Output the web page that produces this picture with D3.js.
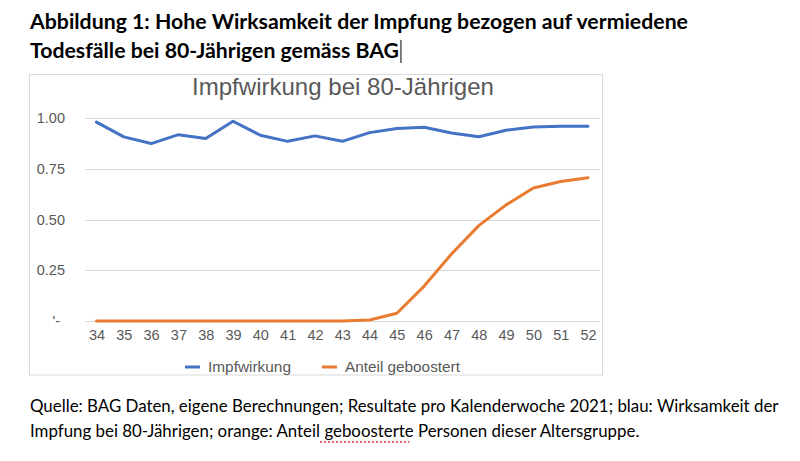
<!DOCTYPE html>
<html>
<head>
<meta charset="utf-8">
<script src="https://cdn.jsdelivr.net/npm/d3@7"></script>
<style>
  html, body { margin: 0; padding: 0; background: #fff; }
  svg { display: block; }
</style>
</head>
<body>
<svg id="chart" width="800" height="461"></svg>
<script>
// ---- Data ----
const weeks = [34,35,36,37,38,39,40,41,42,43,44,45,46,47,48,49,50,51,52];
const impfwirkung = [0.980,0.907,0.874,0.918,0.899,0.984,0.915,0.885,0.912,0.885,0.928,0.948,0.954,0.926,0.908,0.940,0.956,0.959,0.959];
const anteilGeboostert = [0,0,0,0,0,0,0,0,0,0,0.005,0.038,0.172,0.330,0.470,0.572,0.655,0.687,0.706];
const yTicks = [0, 0.25, 0.5, 0.75, 1.0];
const yTickLabels = ["'-", "0.25", "0.50", "0.75", "1.00"];
const seriesNames = ["Impfwirkung", "Anteil geboostert"];
const chartTitle = "Impfwirkung bei 80-Jährigen";
const headingLines = ["Abbildung 1: Hohe Wirksamkeit der Impfung bezogen auf vermiedene", "Todesfälle bei 80-Jährigen gemäss BAG"];
const captionLines = ["Quelle: BAG Daten, eigene Berechnungen; Resultate pro Kalenderwoche 2021; blau: Wirksamkeit der", "Impfung bei 80-Jährigen; orange: Anteil geboosterte Personen dieser Altersgruppe."];

const colors = ["#4472C4", "#E97C30"];
const svg = d3.select("#chart");

function fitText(sel, targetW) {
  const w = sel.node().getComputedTextLength();
  const fs = parseFloat(sel.attr("font-size"));
  sel.attr("font-size", (fs * targetW / w).toFixed(2));
}

// ---- Heading ----
const headFont = "Lato, 'Open Sans', sans-serif";
const h1 = svg.append("text").attr("x", 30).attr("y", 29).attr("font-family", headFont)
  .attr("font-weight", "bold").attr("font-size", 19).attr("fill", "#000").text(headingLines[0]);
fitText(h1, 658);
const h2 = svg.append("text").attr("x", 30).attr("y", 58).attr("font-family", headFont)
  .attr("font-weight", "bold").attr("font-size", h1.attr("font-size")).attr("fill", "#000").text(headingLines[1]);
const h2w = h2.node().getComputedTextLength();
svg.append("line").attr("x1", 30 + h2w + 2).attr("x2", 30 + h2w + 2).attr("y1", 40).attr("y2", 63)
  .attr("stroke", "#000").attr("stroke-width", 1);

// ---- Chart frame ----
svg.append("rect").attr("x", 29.5).attr("y", 74.5).attr("width", 573).attr("height", 300.5)
  .attr("fill", "#fff").attr("stroke", "#d9d9d9").attr("stroke-width", 1);

const chartFont = "'Liberation Sans', Arial, Helvetica, sans-serif";
const textGray = "#595959";

const t = svg.append("text").attr("x", 343).attr("y", 95).attr("text-anchor", "middle")
  .attr("font-family", chartFont).attr("font-size", 21).attr("fill", textGray).text(chartTitle);
fitText(t, 302);

// ---- Scales ----
const x = d3.scalePoint().domain(weeks).range([96.5, 588]);
const y = d3.scaleLinear().domain([0, 1]).range([321, 118]);
const plotL = 85, plotR = 600;

svg.append("g").selectAll("line").data(yTicks).join("line")
  .attr("x1", plotL).attr("x2", plotR)
  .attr("y1", d => Math.round(y(d)) + 0.5).attr("y2", d => Math.round(y(d)) + 0.5)
  .attr("stroke", "#d9d9d9").attr("stroke-width", 1);

const yAxis = d3.axisLeft(y).tickValues(yTicks).tickSize(0).tickPadding(0)
  .tickFormat((d, i) => yTickLabels[i]);
const yg = svg.append("g").attr("transform", "translate(65,0)").call(yAxis);
yg.select(".domain").remove();
yg.selectAll("text").attr("font-family", chartFont).attr("font-size", 14.5).attr("fill", textGray);
yg.selectAll("text").filter((d) => d === 0).attr("dx", -5);

const xAxis = d3.axisBottom(x).tickSize(0).tickPadding(0);
const xg = svg.append("g").attr("transform", "translate(0,330)").call(xAxis);
xg.select(".domain").remove();
xg.selectAll("text").attr("font-family", chartFont).attr("font-size", 14.5).attr("fill", textGray);

// ---- Lines ----
const line = d3.line().x((d, i) => x(weeks[i])).y(d => y(d));
[impfwirkung, anteilGeboostert].forEach((s, k) => {
  svg.append("path").datum(s).attr("d", line).attr("fill", "none")
    .attr("stroke", colors[k]).attr("stroke-width", 3)
    .attr("stroke-linejoin", "round").attr("stroke-linecap", "round");
});

// ---- Legend ----
const legendItems = [{x: 185, name: seriesNames[0], c: colors[0], w: 83}, {x: 322, name: seriesNames[1], c: colors[1], w: 115}];
const lg = svg.append("g");
legendItems.forEach(it => {
  lg.append("line").attr("x1", it.x).attr("x2", it.x + 15).attr("y1", 367).attr("y2", 367)
    .attr("stroke", it.c).attr("stroke-width", 3);
  const tx = lg.append("text").attr("x", it.x + 23).attr("y", 372).attr("font-family", chartFont)
    .attr("font-size", 14.5).attr("fill", textGray).text(it.name);
  fitText(tx, it.w);
});

// ---- Caption ----
const c1 = svg.append("text").attr("x", 30).attr("y", 412).attr("font-family", headFont)
  .attr("font-size", 15).attr("fill", "#000").text(captionLines[0]);
fitText(c1, 749);
const c2 = svg.append("text").attr("x", 30).attr("y", 437).attr("font-family", headFont)
  .attr("font-size", c1.attr("font-size")).attr("fill", "#000");
const parts = captionLines[1].split("geboosterte");
c2.append("tspan").text(parts[0]);
const gb = c2.append("tspan").text("geboosterte");
c2.append("tspan").text(parts[1]);
const pre = svg.append("text").attr("font-family", headFont).attr("font-size", c1.attr("font-size")).text(parts[0]);
const preW = pre.node().getComputedTextLength(); pre.remove();
const gbW = gb.node().getComputedTextLength();
svg.append("line").attr("x1", 30 + preW).attr("x2", 30 + preW + gbW).attr("y1", 442).attr("y2", 442)
  .attr("stroke", "#e0302a").attr("stroke-width", 1.5).attr("stroke-dasharray", "2,2");
</script>
</body>
</html>
